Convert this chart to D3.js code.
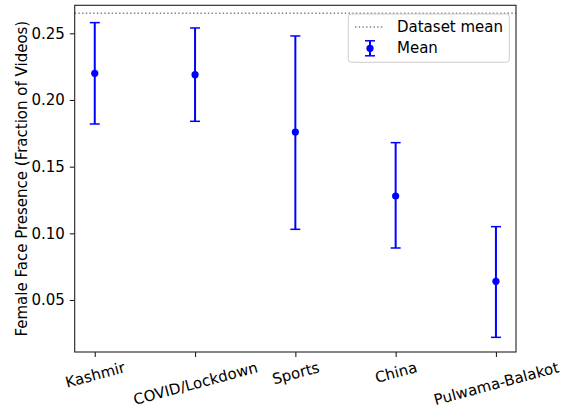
<!DOCTYPE html>
<html>
<head>
<meta charset="utf-8">
<script src="https://cdn.jsdelivr.net/npm/d3@7"></script>
<style>
  html, body { margin: 0; padding: 0; background: #fff; }
  svg { display: block; }
  text { font-family: "DejaVu Sans", sans-serif; fill: #000; }
</style>
</head>
<body>
<svg id="chart" width="568" height="408"></svg>
<script>
// ---- Data ----
const categories = ["Kashmir", "COVID/Lockdown", "Sports", "China", "Pulwama-Balakot"];
const means      = [0.220, 0.219, 0.176, 0.128, 0.064];
const lowers     = [0.182, 0.184, 0.103, 0.089, 0.022];
const uppers     = [0.258, 0.254, 0.248, 0.168, 0.105];
const datasetMean = 0.265;
const yTicks = [0.05, 0.10, 0.15, 0.20, 0.25];
const yLabel = "Female Face Presence (Fraction of Videos)";
const legendLabels = ["Dataset mean", "Mean"];

// ---- Layout ----
const W = 568, H = 408;
const plot = { left: 74.7, right: 516, top: 5.3, bottom: 352 };
const fs = 15;
const blue = "#0000ff";

const svg = d3.select("#chart");

const x = d3.scaleLinear().domain([-0.2, categories.length - 1 + 0.2]).range([plot.left, plot.right]);
const y = d3.scaleLinear().domain([0.011, 0.271]).range([plot.bottom, plot.top]);

// dataset mean line
svg.append("line")
  .attr("x1", plot.left).attr("x2", plot.right)
  .attr("y1", y(datasetMean)).attr("y2", y(datasetMean))
  .attr("stroke", "#808080").attr("stroke-width", 1.4)
  .attr("stroke-dasharray", "1.4,2.3");

// error bars
const g = svg.append("g");
const capHalf = 5;
categories.forEach((c, i) => {
  const cx = x(i);
  g.append("line").attr("x1", cx).attr("x2", cx)
    .attr("y1", y(lowers[i])).attr("y2", y(uppers[i]))
    .attr("stroke", blue).attr("stroke-width", 2);
  [lowers[i], uppers[i]].forEach(v => {
    g.append("line").attr("x1", cx - capHalf).attr("x2", cx + capHalf)
      .attr("y1", y(v)).attr("y2", y(v))
      .attr("stroke", blue).attr("stroke-width", 1.5);
  });
  g.append("circle").attr("cx", cx).attr("cy", y(means[i])).attr("r", 3.6).attr("fill", blue);
});

// spines
svg.append("rect")
  .attr("x", plot.left).attr("y", plot.top)
  .attr("width", plot.right - plot.left).attr("height", plot.bottom - plot.top)
  .attr("fill", "none").attr("stroke", "#222").attr("stroke-width", 1.1);

// y axis
const yAxis = d3.axisLeft(y).tickValues(yTicks).tickFormat(d3.format(".2f")).tickSize(4.9).tickPadding(4.9);
const ya = svg.append("g").attr("transform", `translate(${plot.left},0)`).call(yAxis);
ya.select(".domain").remove();
ya.selectAll(".tick line").attr("stroke", "#222").attr("stroke-width", 1.1);
ya.selectAll(".tick text").attr("font-size", fs).attr("font-family", "DejaVu Sans").attr("fill", "#000");

// x axis
const xAxis = d3.axisBottom(x).tickValues(d3.range(categories.length)).tickFormat(i => categories[i]).tickSize(4.9).tickPadding(0);
const xa = svg.append("g").attr("transform", `translate(0,${plot.bottom})`).call(xAxis);
xa.select(".domain").remove();
xa.selectAll(".tick line").attr("stroke", "#222").attr("stroke-width", 1.1);
const ang = 15 * Math.PI / 180;
xa.selectAll(".tick text")
  .attr("font-size", fs).attr("font-family", "DejaVu Sans").attr("fill", "#000")
  .attr("text-anchor", "middle").attr("dominant-baseline", "central")
  .attr("dy", null).attr("y", null)
  .each(function () {
    const w = this.getComputedTextLength();
    const h = fs * 1.05;
    const bh = w * Math.sin(ang) + h * Math.cos(ang);
    const top = 4.9 + 2.6;
    d3.select(this).attr("transform", `translate(0,${top + bh / 2}) rotate(-15)`);
  });

// y label
svg.append("text")
  .attr("transform", `translate(22,${(plot.top + plot.bottom) / 2}) rotate(-90)`)
  .attr("text-anchor", "middle").attr("dominant-baseline", "central")
  .attr("font-size", fs).text(yLabel);

// legend
const lg = svg.append("g");
lg.append("rect")
  .attr("x", 348.3).attr("y", 14).attr("width", 161).attr("height", 48.3)
  .attr("rx", 3).attr("fill", "#fff").attr("fill-opacity", 0.8)
  .attr("stroke", "#cccccc").attr("stroke-width", 1);
lg.append("line").attr("x1", 355).attr("x2", 384).attr("y1", 27).attr("y2", 27)
  .attr("stroke", "#808080").attr("stroke-width", 1.4).attr("stroke-dasharray", "1.4,2.3");
lg.append("text").attr("x", 397).attr("y", 27).attr("dominant-baseline", "central")
  .attr("font-size", fs).text(legendLabels[0]);
const my = 48.3;
lg.append("line").attr("x1", 370).attr("x2", 370).attr("y1", my - 7.5).attr("y2", my + 7.5)
  .attr("stroke", blue).attr("stroke-width", 2);
[my - 7.5, my + 7.5].forEach(v => lg.append("line").attr("x1", 365).attr("x2", 375)
  .attr("y1", v).attr("y2", v).attr("stroke", blue).attr("stroke-width", 1.5));
lg.append("circle").attr("cx", 370).attr("cy", my).attr("r", 3.6).attr("fill", blue);
lg.append("text").attr("x", 397).attr("y", my).attr("dominant-baseline", "central")
  .attr("font-size", fs).text(legendLabels[1]);
</script>
</body>
</html>
